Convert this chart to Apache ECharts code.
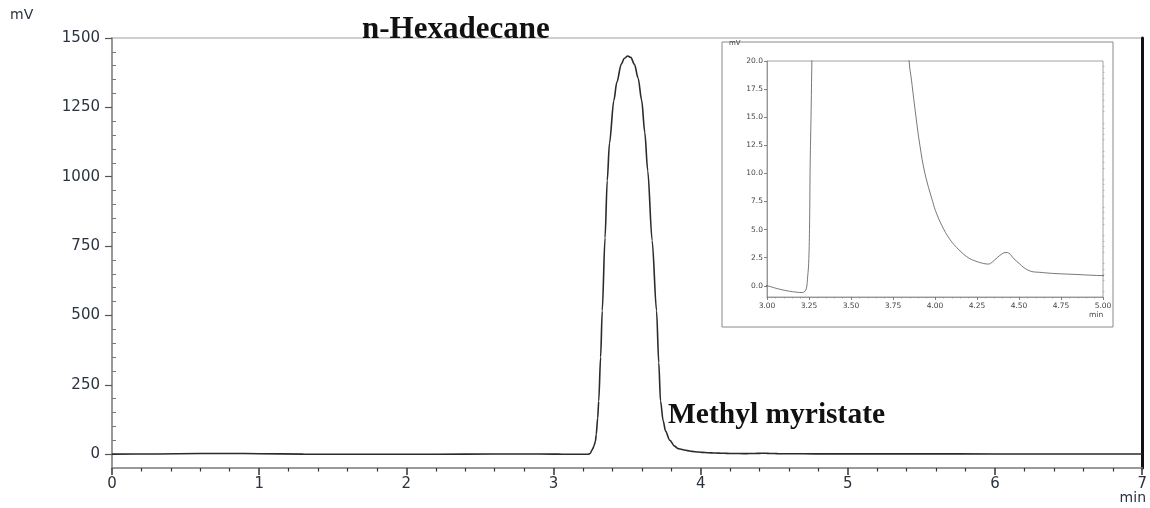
<!DOCTYPE html>
<html>
<head>
<meta charset="utf-8">
<script src="https://cdn.jsdelivr.net/npm/echarts@6/dist/echarts.min.js"></script>
<style>
  html, body { margin: 0; padding: 0; background: #fff; }
  #chart { width: 1150px; height: 508px; }
</style>
</head>
<body>
<div id="chart"></div>
<script>
// retention time (min) and detector signal (mV)
const times = [
  0.00, 0.30, 0.60, 0.80, 1.00, 1.30, 1.60, 2.00, 2.40, 2.80,
  3.00, 3.06, 3.12, 3.18, 3.21, 3.225, 3.235, 3.242, 3.248, 3.253,
  3.257, 3.262, 3.267, 3.275, 3.285, 3.29, 3.30, 3.307, 3.32, 3.331,
  3.35, 3.365, 3.38, 3.41, 3.43, 3.46, 3.48, 3.504, 3.525, 3.55,
  3.575, 3.599, 3.62, 3.64, 3.67, 3.70, 3.715, 3.727, 3.745, 3.761,
  3.79, 3.822, 3.846, 3.86, 3.887, 3.91, 3.94, 3.986, 4.01, 4.053,
  4.09, 4.12, 4.16, 4.198, 4.24, 4.29, 4.317, 4.34, 4.37, 4.40,
  4.422, 4.44, 4.47, 4.50, 4.53, 4.56, 4.584, 4.62, 4.70, 4.85,
  5.00, 5.50, 6.00, 6.50, 7.00
];
const signal = [
  0.0, 0.5, 2.0, 2.5, 1.5, 0.0, -0.5, -0.5, 0.0, 0.5,
  0.0, -0.25, -0.45, -0.58, -0.6, -0.5, -0.2, 0.8, 2.0, 5.0,
  10.9, 15, 20, 30, 47, 70, 130, 191, 350, 517,
  780, 986, 1120, 1275, 1340, 1405, 1426, 1435, 1430, 1405,
  1355, 1275, 1160, 1022, 770, 517, 330, 191, 120, 83,
  50, 29, 20, 18.3, 15, 12.5, 10, 7.5, 6.4, 5.0,
  4.1, 3.55, 2.95, 2.5, 2.2, 1.98, 1.93, 2.1, 2.5, 2.85,
  2.96, 2.9, 2.4, 2.0, 1.6, 1.35, 1.24, 1.2, 1.1, 1.0,
  0.9, 0.8, 0.7, 0.6, 0.5
];

// tick labels
const mainYLabels = [0, 250, 500, 750, 1000, 1250, 1500];
const insetYLabels = [0, 2.5, 5, 7.5, 10, 12.5, 15, 17.5, 20];

const peakNames = ['n-Hexadecane', 'Methyl myristate'];

function steps(from, to, step) {
  const out = [];
  for (let v = from; v <= to + 1e-9; v += step) out.push(Math.round(v * 1000) / 1000);
  return out;
}

function render() {
  const points = times.map((t, i) => [t, signal[i]]);
  const mainMinor = steps(0, 1500, 50).filter(v => v % 250 !== 0);
  const insetMinor = steps(-0.5, 20, 0.5).filter(v => Math.abs(v / 2.5 - Math.round(v / 2.5)) > 1e-6);
  const labelFont = { fontFamily: 'DejaVu Sans', fontSize: 15, color: '#2a3340' };
  const smallFont = { fontFamily: 'DejaVu Sans', fontSize: 7.5, color: '#444' };

  const chart = echarts.init(document.getElementById('chart'), null, { width: 1150, height: 508 });
  chart.setOption({
    animation: false,
    backgroundColor: '#fff',
    grid: [
      { left: 112, right: 2, top: 38, bottom: 40, show: true, borderColor: '#a0a0a0', borderWidth: 1.2 },
      { left: 767, top: 61, width: 336, height: 236, show: true, borderColor: '#8a8a8a', borderWidth: 0.8 }
    ],
    xAxis: [
      {
        type: 'value', gridIndex: 0, min: 0, max: 7, interval: 1,
        axisLine: { onZero: false, lineStyle: { color: '#888', width: 1.5 } },
        axisTick: { length: 7, lineStyle: { color: '#333', width: 1.5 } },
        minorTick: { show: true, splitNumber: 5, length: 3.5, lineStyle: { color: '#333', width: 1.2 } },
        splitLine: { show: false },
        axisLabel: Object.assign({ margin: 9, formatter: v => String(v) }, labelFont)
      },
      {
        type: 'value', gridIndex: 1, min: 3, max: 5, interval: 0.25,
        axisLine: { onZero: false, lineStyle: { color: '#888', width: 0.8 } },
        axisTick: { length: 3, lineStyle: { color: '#666', width: 0.8 } },
        minorTick: { show: true, splitNumber: 5, length: 1.5, lineStyle: { color: '#888', width: 0.6 } },
        splitLine: { show: false },
        axisLabel: Object.assign({ margin: 5, formatter: v => v.toFixed(2) }, smallFont)
      }
    ],
    yAxis: [
      {
        type: 'value', gridIndex: 0, min: -50, max: 1500,
        axisLine: { show: true, onZero: false, lineStyle: { color: '#888', width: 1.5 } },
        axisTick: { show: true, length: 7, customValues: mainYLabels, lineStyle: { color: '#555', width: 1.2 } },
        splitLine: { show: false },
        axisLabel: Object.assign({ margin: 12, customValues: mainYLabels, formatter: v => String(v) }, labelFont)
      },
      {
        type: 'value', gridIndex: 0, min: -50, max: 1500,
        axisLine: { show: false },
        axisTick: { show: true, length: 4, customValues: mainMinor, lineStyle: { color: '#777', width: 1 } },
        splitLine: { show: false },
        axisLabel: { show: false }
      },
      {
        type: 'value', gridIndex: 0, min: -50, max: 1500, position: 'right',
        axisLine: { show: true, onZero: false, lineStyle: { color: '#111', width: 3 } },
        axisTick: { show: false },
        splitLine: { show: false },
        axisLabel: { show: false }
      },
      {
        type: 'value', gridIndex: 1, min: -1, max: 20,
        axisLine: { show: true, onZero: false, lineStyle: { color: '#888', width: 0.8 } },
        axisTick: { show: true, length: 3, customValues: insetYLabels, lineStyle: { color: '#666', width: 0.8 } },
        splitLine: { show: false },
        axisLabel: Object.assign({ margin: 4, customValues: insetYLabels, formatter: v => v.toFixed(1) }, smallFont)
      },
      {
        type: 'value', gridIndex: 1, min: -1, max: 20,
        axisLine: { show: false },
        axisTick: { show: true, length: 1.5, customValues: insetMinor, lineStyle: { color: '#999', width: 0.6 } },
        splitLine: { show: false },
        axisLabel: { show: false }
      }
    ],
    series: [
      {
        name: 'signal', type: 'line', xAxisIndex: 0, yAxisIndex: 0,
        data: points, showSymbol: false, smooth: 0.3, smoothMonotone: 'x',
        lineStyle: { color: '#2b2b2b', width: 1.6 }
      },
      {
        name: 'signal (zoom)', type: 'line', xAxisIndex: 1, yAxisIndex: 3,
        data: points, showSymbol: false, smooth: 0.4, clip: true,
        lineStyle: { color: '#555', width: 0.8 }
      }
    ],
    graphic: [
      { type: 'rect', z: -10, shape: { x: 722, y: 42, width: 391, height: 285 },
        style: { fill: '#fff', stroke: '#8a8a8a', lineWidth: 1 } },
      { type: 'text', left: 10, top: 8,
        style: { text: 'mV', fontFamily: 'DejaVu Sans', fontSize: 14, fill: '#2a3340' } },
      { type: 'text', right: 4, top: 491,
        style: { text: 'min', fontFamily: 'DejaVu Sans', fontSize: 14, fill: '#2a3340' } },
      { type: 'text', left: 729, top: 40,
        style: { text: 'mV', fontFamily: 'DejaVu Sans', fontSize: 7, fill: '#444' } },
      { type: 'text', left: 1089, top: 311,
        style: { text: 'min', fontFamily: 'DejaVu Sans', fontSize: 7.5, fill: '#444' } },
      { type: 'text', left: 362, top: 14,
        style: { text: peakNames[0], fontFamily: 'Liberation Serif', fontWeight: 'bold', fontSize: 31, fill: '#111' } },
      { type: 'text', left: 668, top: 400,
        style: { text: peakNames[1], fontFamily: 'Liberation Serif', fontWeight: 'bold', fontSize: 29.5, fill: '#111' } }
    ]
  });
}

render();
</script>
</body>
</html>
